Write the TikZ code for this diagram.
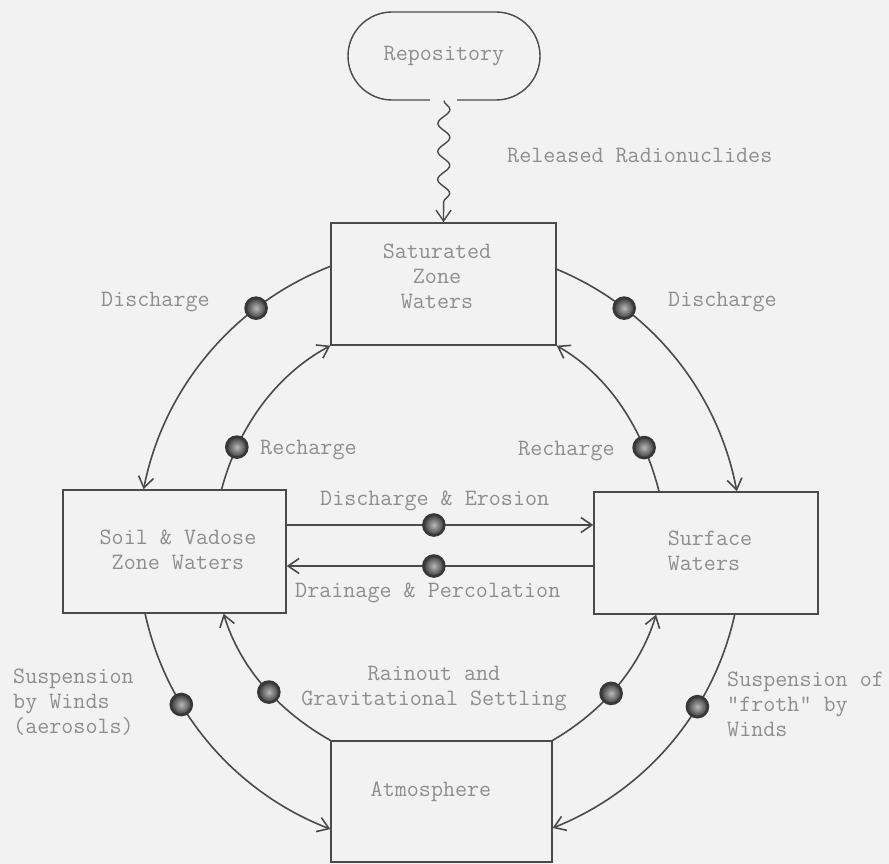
\documentclass[tikz,border=0pt]{standalone}
\usepackage{fontspec}
\usetikzlibrary{arrows.meta,decorations.pathmorphing}
\definecolor{bgc}{HTML}{F2F2F2}
\definecolor{lc}{HTML}{4A4A4A}
\definecolor{tc}{HTML}{8E8E8E}
\definecolor{dc}{HTML}{383838}
\newcommand\labfont{\ttfamily\fontsize{23.4}{25}\selectfont}
\tikzset{
  box/.style={draw=lc, line width=1.4pt, rectangle, inner sep=0pt},
  lbl/.style={text=tc, font=\labfont, inner sep=0pt},
  flow/.style={draw=lc, line width=1.6pt, -{Straight Barb[length=11pt,width=15pt,line width=1.6pt]}},
  blob/.style={circle, minimum size=21pt, inner sep=0pt, draw=dc, line width=2.6pt, inner color=gray!55, outer color=dc},
}
\begin{document}
\begin{tikzpicture}[x=1pt,y=1pt]
\useasboundingbox (0,0) rectangle (889,-864);
\fill[bgc] (0,0) rectangle (889,-864);

% boxes
\node[box, rounded corners=44pt, minimum width=192pt, minimum height=88pt] (rep) at (444,-56) {};
\node[lbl] (repT) at (rep.center) {Repository};
\fill[bgc] ([xshift=-14pt,yshift=-3pt]rep.south) rectangle ([xshift=13pt,yshift=3pt]rep.south);

\node[box, minimum width=225pt, minimum height=122pt] (sat) at (443.5,-284) {};
\node[lbl, align=center] (satT) at ([xshift=-6.5pt,yshift=8pt]sat.center) {Saturated\\Zone\\Waters};

\node[box, minimum width=223pt, minimum height=123pt] (soil) at (174.5,-551.5) {};
\node[lbl, align=center] (soilT) at ([xshift=3.5pt,yshift=2pt]soil.center) {Soil \& Vadose\\Zone Waters};

\node[box, minimum width=224pt, minimum height=122pt] (surf) at (706,-553) {};
\node[lbl, align=left] (surfT) at ([xshift=4pt,yshift=2.5pt]surf.center) {Surface\\Waters};

\node[box, minimum width=221pt, minimum height=121pt] (atm) at (441.5,-801.5) {};
\node[lbl] (atmT) at ([xshift=-10.5pt,yshift=9.5pt]atm.center) {Atmosphere};

% release
\draw[lc, line width=1.4pt, decorate,
      decoration={snake, amplitude=6pt, segment length=28pt, post length=10pt},
      -{Straight Barb[length=11pt,width=15pt,line width=1.4pt]}] (rep.south) -- (sat.north);
\node[lbl, anchor=west] (relT) at (507,-155) {Released Radionuclides};

% outer circle
\draw[flow] ([yshift=17.6pt]sat.west) to[out=201.2,in=78.9,looseness=0.91] node[blob,pos=0.28] (d1) {} ([xshift=-30.9pt]soil.north);
\draw[flow] ([yshift=14.8pt]sat.east) to[out=337.4,in=100.7,looseness=0.91] node[blob,pos=0.26] (d2) {} ([xshift=30.8pt]surf.north);
\draw[flow] ([xshift=-29.4pt]soil.south) to[out=282.4,in=158.8,looseness=0.91] node[blob,pos=0.33] (d3) {} ([yshift=-27.6pt]atm.west);
\draw[flow] ([xshift=28.7pt]surf.south) to[out=257.4,in=21.8,looseness=0.91] node[blob,pos=0.34] (d4) {} ([yshift=-26.5pt]atm.east);

% inner circle
\draw[flow] ([xshift=47.1pt]soil.north) to[out=75.1,in=208.2,looseness=0.89] node[blob,pos=0.24] (d5) {} (sat.south west);
\draw[flow] ([xshift=-47pt]surf.north) to[out=104.3,in=330.3,looseness=0.89] node[blob,pos=0.25] (d6) {} (sat.south east);
\draw[flow] (atm.north west) to[out=150.5,in=286.7,looseness=0.89] node[blob,pos=0.46] (d7) {} ([xshift=49.1pt]soil.south);
\draw[flow] (atm.north east) to[out=30.1,in=253,looseness=0.89] node[blob,pos=0.45] (d8) {} ([xshift=-49.9pt]surf.south);

% horizontal
\draw[flow] ([yshift=26.5pt]soil.east) -- node[blob,pos=0.48] (d9) {} ([yshift=28pt]surf.west);
\draw[flow] ([yshift=-13pt]surf.west) -- node[blob,pos=0.52] (d10) {} ([yshift=-14.5pt]soil.east);

% labels
\node[lbl, anchor=west] (l1) at (101,-302) {Discharge};
\node[lbl, anchor=west] (l2) at (668,-302) {Discharge};
\node[lbl, anchor=west] (l3) at (260,-450) {Recharge};
\node[lbl, anchor=west] (l4) at (518,-451) {Recharge};
\node[lbl, anchor=west] (l5) at (320,-501) {Discharge \& Erosion};
\node[lbl, anchor=west] (l6) at (295,-593) {Drainage \& Percolation};
\node[lbl, anchor=west, align=left] (l7) at (13,-702) {Suspension\\by Winds\\(aerosols)};
\node[lbl, align=center] (l8) at (434,-689) {Rainout and\\Gravitational Settling};
\node[lbl, anchor=west, align=left] (l9) at (727,-704) {Suspension of\\"froth" by\\Winds};
\end{tikzpicture}
\end{document}
